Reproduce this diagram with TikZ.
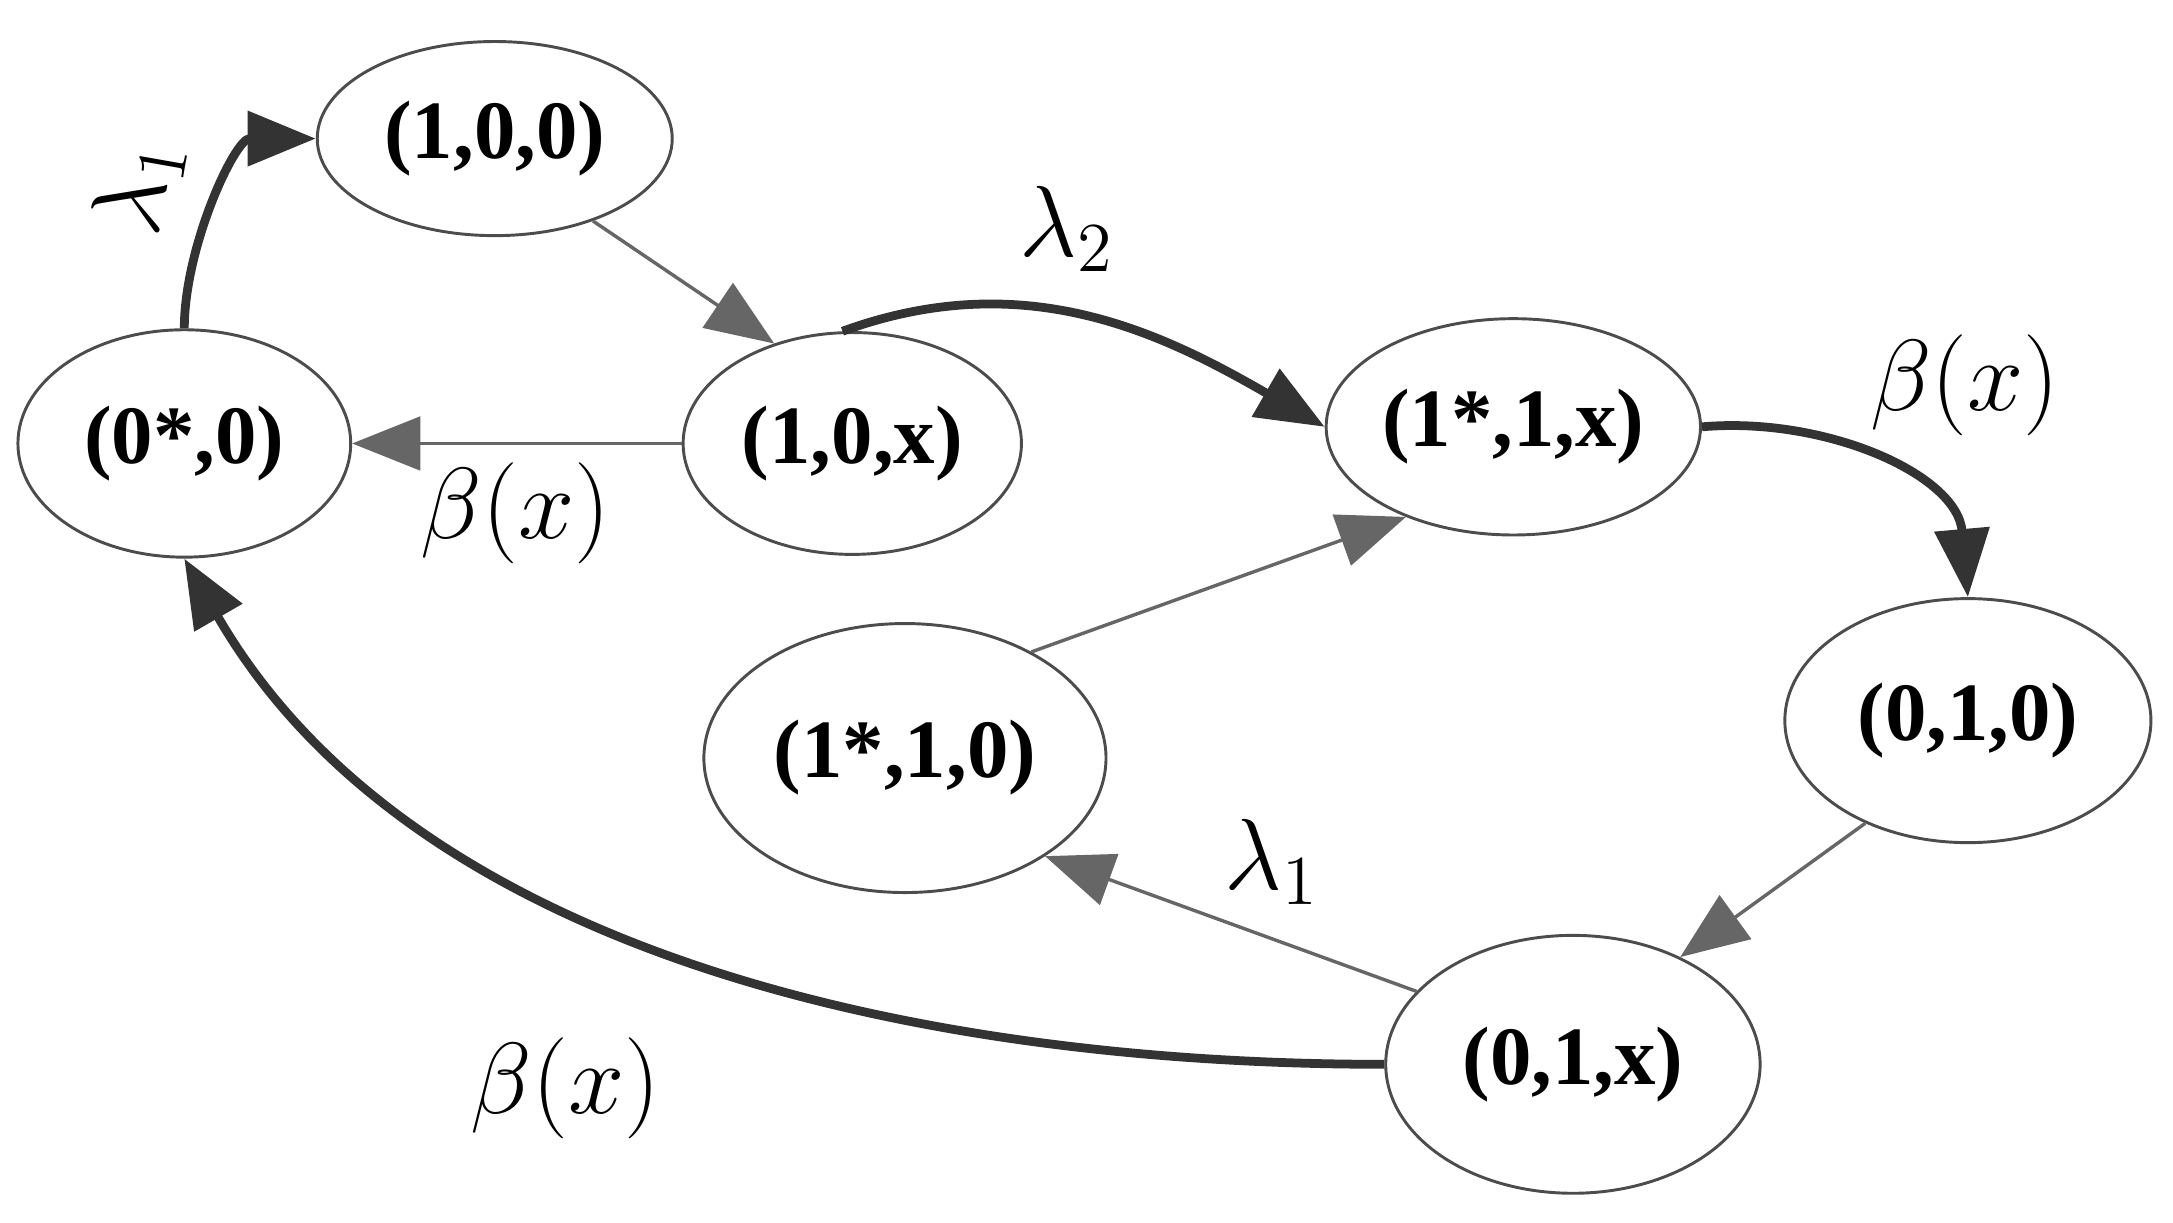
\documentclass[tikz,border=0pt]{standalone}
\usepackage{fontspec}
\setmainfont{Liberation Serif}
\usetikzlibrary{shapes.geometric,arrows.meta}
\begin{document}
\begin{tikzpicture}[x=0.01cm,y=-0.01cm,
 st/.style={ellipse,draw=black!70,line width=0.6pt,fill=white,font=\bfseries\fontsize{17}{20}\selectfont,inner sep=0pt},
 thin/.style={draw=black!60,line width=0.7pt,-{Triangle[length=14pt,width=11pt]}},
 thick/.style={draw=black!80,line width=1.8pt,-{Triangle[length=14pt,width=11pt]}},
 lab/.style={font=\fontsize{22}{26}\selectfont}]
\useasboundingbox (0,0) rectangle (1568,882);
\node[st,minimum width=2.56cm,minimum height=1.40cm] (a) at (357,100) {(1,0,0)};
\node[st,minimum width=2.40cm,minimum height=1.64cm] (b) at (133,320) {(0*,0)};
\node[st,minimum width=2.44cm,minimum height=1.60cm] (c) at (615,320) {(1,0,x)};
\node[st,minimum width=2.70cm,minimum height=1.56cm] (d) at (1092,308) {(1*,1,x)};
\node[st,minimum width=2.90cm,minimum height=1.94cm] (e) at (653,547) {(1*,1,0)};
\node[st,minimum width=2.64cm,minimum height=1.76cm] (f) at (1420,520) {(0,1,0)};
\node[st,minimum width=2.70cm,minimum height=1.86cm] (g) at (1135,768) {(0,1,x)};
\draw[thick] (b.north) to[out=90,in=180,looseness=0.9] (a.west);
\draw[thin] (a.-40) -- (c.128);
\draw[thin] (c.west) -- (b.east);
\draw[thick] (c.95) to[out=20,in=150] (d.west);
\draw[thick] (d.east) to[out=5,in=95] (f.north);
\draw[thin] (f.-135) -- (g.45);
\draw[thin] (g.155) -- (e.-35);
\draw[thin] (e.40) -- (d.-140);
\draw[thick] (g.west) to[out=180,in=-60,looseness=0.9] (b.-90);
\node[lab,rotate=80] (l1) at (100,135) {$\lambda_1$};
\node[lab] (l2) at (770,165) {$\lambda_2$};
\node[lab] (l3) at (1418,278) {$\beta(x)$};
\node[lab] (l4) at (372,370) {$\beta(x)$};
\node[lab] (l5) at (918,622) {$\lambda_1$};
\node[lab] (l6) at (408,785) {$\beta(x)$};
\end{tikzpicture}
\end{document}
